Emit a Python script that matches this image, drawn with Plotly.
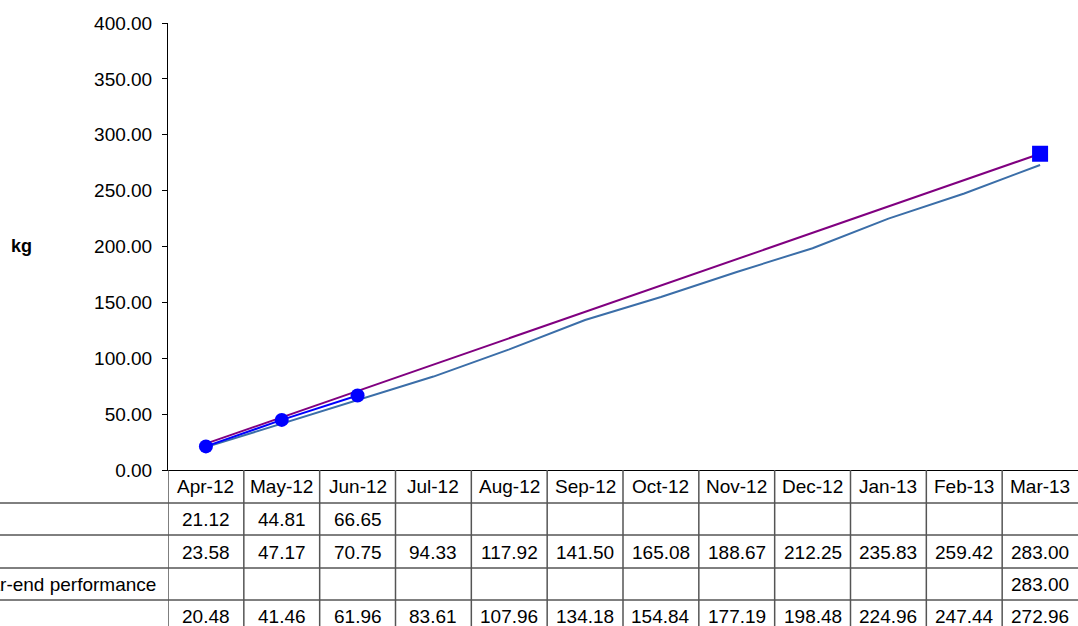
import plotly.graph_objects as go

# Months shown on the category axis / table header
months = ["Apr-12", "May-12", "Jun-12", "Jul-12", "Aug-12", "Sep-12",
          "Oct-12", "Nov-12", "Dec-12", "Jan-13", "Feb-13", "Mar-13"]

# Cumulative series (kg)
actual = [21.12, 44.81, 66.65, None, None, None, None, None, None, None, None, None]
target = [23.58, 47.17, 70.75, 94.33, 117.92, 141.50, 165.08, 188.67, 212.25, 235.83, 259.42, 283.00]
year_end = [None, None, None, None, None, None, None, None, None, None, None, 283.00]
last_year = [20.48, 41.46, 61.96, 83.61, 107.96, 134.18, 154.84, 177.19, 198.48, 224.96, 247.44, 272.96]

year_end_label = "Year-end performance"
row_values = [actual, target, year_end, last_year]

y_ticks = [0, 50, 100, 150, 200, 250, 300, 350, 400]

FONT = "Liberation Sans, Arial, sans-serif"
FS = 19
W, H = 1078, 626
ML, MR, MT, MB = 168, 0, 23, 156
PW, PH = W - ML - MR, H - MT - MB


def py(px):
    """Pixel row -> paper y."""
    return (H - MB - px) / PH


def pxx(px):
    """Pixel column -> paper x."""
    return (px - ML) / PW


fig = go.Figure()

fig.add_trace(go.Scatter(x=months, y=last_year, mode="lines", name="Last year",
                         line=dict(color="#3B6EA8", width=2)))
fig.add_trace(go.Scatter(x=months, y=target, mode="lines", name="Target",
                         line=dict(color="#800080", width=2)))
fig.add_trace(go.Scatter(x=months, y=actual, mode="lines+markers", name="Actual",
                         line=dict(color="#0000FF", width=2),
                         marker=dict(symbol="circle", size=14, color="#0000FF")))
fig.add_trace(go.Scatter(x=months, y=year_end, mode="markers", name=year_end_label,
                         marker=dict(symbol="square", size=16, color="#0000FF")))

shapes = []
annotations = []

# Data table underneath the plot: header row + one row per series
header_y = 487
row_centers = [519, 552, 584, 616]
row_lines = [503, 535, 568, 600]

for m in months:
    annotations.append(dict(x=m, y=py(header_y), xref="x", yref="paper", text=m,
                            xanchor="center", yanchor="middle", showarrow=False,
                            font=dict(size=FS, color="black", family=FONT)))

# Row label of the year-end series (the label column runs off the left edge)
annotations.append(dict(x=pxx(158), y=py(row_centers[2]), xref="paper", yref="paper",
                        text=year_end_label, xanchor="right", yanchor="middle",
                        showarrow=False, font=dict(size=FS, color="black", family=FONT)))

for vals, yc in zip(row_values, row_centers):
    for m, v in zip(months, vals):
        if v is not None:
            annotations.append(dict(x=m, y=py(yc), xref="x", yref="paper", text=f"{v:.2f}",
                                    xanchor="center", yanchor="middle", showarrow=False,
                                    font=dict(size=FS, color="black", family=FONT)))

for yl in row_lines:
    shapes.append(dict(type="line", xref="paper", yref="paper", x0=pxx(-200), x1=1.0,
                       y0=py(yl), y1=py(yl), line=dict(color="black", width=1)))

for i in range(len(months)):
    shapes.append(dict(type="line", xref="x", yref="paper", x0=i - 0.5, x1=i - 0.5,
                       y0=0, y1=py(H + 5), line=dict(color="#555555", width=1.5)))

annotations.append(dict(x=pxx(21), y=py(246), xref="paper", yref="paper", text="<b>kg</b>",
                        xanchor="center", yanchor="middle", showarrow=False,
                        font=dict(size=18, color="black", family=FONT)))

fig.update_layout(
    width=W, height=H,
    margin=dict(l=ML, r=MR, t=MT, b=MB, pad=0),
    paper_bgcolor="white", plot_bgcolor="white",
    showlegend=False,
    font=dict(family=FONT, size=FS, color="black"),
    shapes=shapes, annotations=annotations,
    xaxis=dict(type="category", range=[-0.5, 11.5], showticklabels=False, ticks="",
               showgrid=False, zeroline=False, showline=True, linecolor="black", linewidth=1),
    yaxis=dict(range=[0, 400], tickvals=y_ticks, tickformat=".2f", ticks="outside",
               ticklen=5, tickcolor="black", showgrid=False, zeroline=False,
               showline=True, linecolor="black", linewidth=1, ticklabelstandoff=6,
               tickfont=dict(size=FS, color="black", family=FONT)),
)

fig.write_html("out.html")
